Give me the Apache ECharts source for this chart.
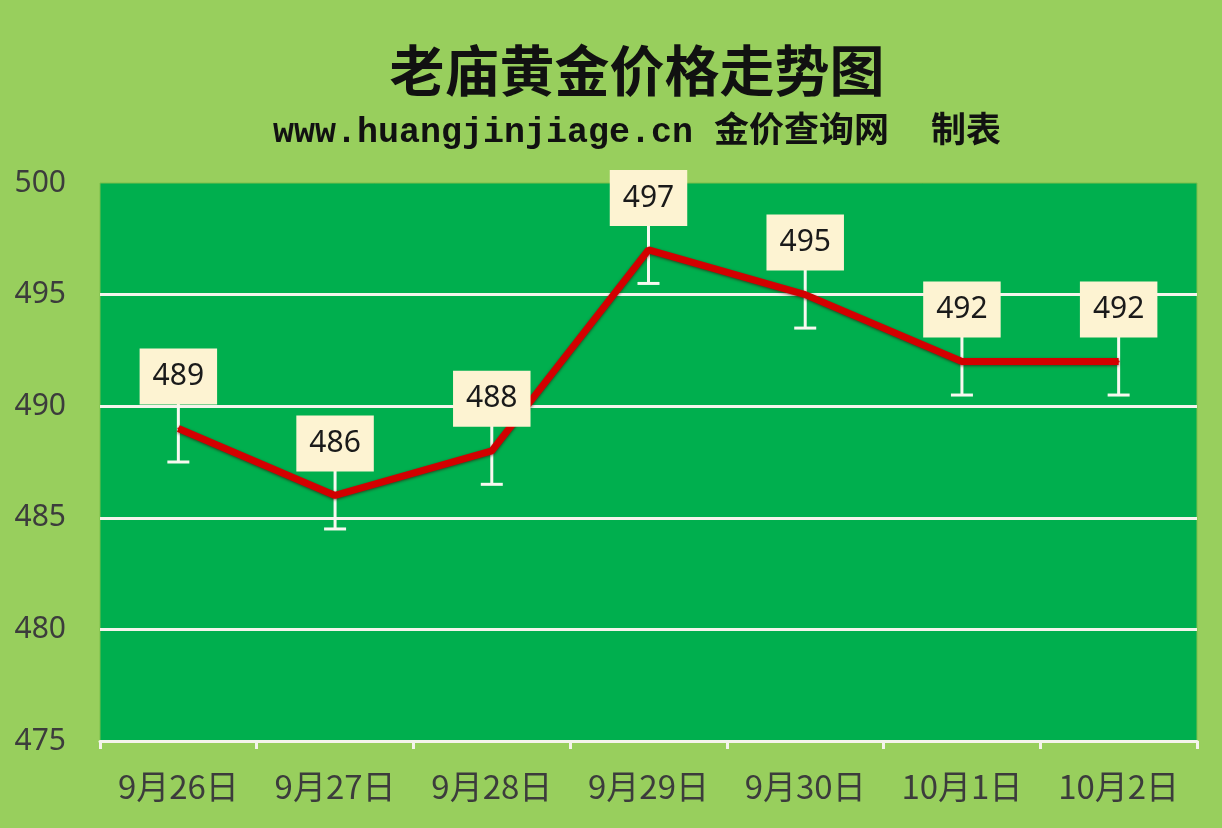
<!DOCTYPE html>
<html><head><meta charset="utf-8">
<script src="https://cdn.jsdelivr.net/npm/echarts@6/dist/echarts.min.js"></script>
<style>html,body{margin:0;padding:0;background:#98CF5D;}#c{width:1222px;height:828px;}</style>
</head><body><div id="c"></div>
<script>
const categories = ['9月26日','9月27日','9月28日','9月29日','9月30日','10月1日','10月2日'];
const prices = [489, 486, 488, 497, 495, 492, 492];
const errorAmount = [1.5, 1.5, 1.5, 1.5, 1.5, 1.5, 1.5];
const yMin = 475, yMax = 500, yStep = 5;

const errData = prices.map((v, i) => [i, v + errorAmount[i], v - errorAmount[i]]);
const W = '#F4F4EC';

const chart = echarts.init(document.getElementById('c'));
chart.setOption({
  backgroundColor: '#98CF5D',
  animation: false,
  title: [
    { text: '老庙黄金价格走势图', left: 632, textAlign: 'center', top: 38,
      textStyle: { fontFamily: 'Noto Sans CJK SC', fontWeight: 'bold', fontSize: 55, color: '#111' } },
    { text: 'www.huangjinjiage.cn 金价查询网  制表', left: 632, textAlign: 'center', top: 111,
      textStyle: { fontFamily: 'Liberation Mono, Noto Sans CJK SC', fontWeight: 'bold', fontSize: 35, color: '#111' } }
  ],
  grid: { left: 100, right: 25, top: 183, bottom: 87, backgroundColor: '#00AF4E', show: true, borderWidth: 1, borderColor: '#7DBE4A' },
  xAxis: {
    type: 'category', data: categories, boundaryGap: true,
    axisLine: { lineStyle: { color: W, width: 3 } },
    axisTick: { show: true, interval: 0, length: 8, lineStyle: { color: W, width: 3 } },
    axisLabel: { interval: 0, hideOverlap: false, fontFamily: 'Noto Sans CJK SC', fontSize: 33, color: '#3C3C3C', margin: 29 }
  },
  yAxis: {
    type: 'value', min: yMin, max: yMax, interval: yStep,
    axisLine: { show: false }, axisTick: { show: false },
    axisLabel: { fontFamily: 'Noto Sans', fontSize: 30, color: '#3C3C3C', margin: 34 },
    splitLine: { lineStyle: { color: [W, W, W, W, W, 'rgba(0,0,0,0)'], width: 3 } }
  },
  series: [
    {
      type: 'custom', z: 2,
      data: errData,
      renderItem: function (params, api) {
        const p1 = api.coord([api.value(0), api.value(1)]);
        const p2 = api.coord([api.value(0), api.value(2)]);
        const x = p1[0], top = p1[1], bot = p2[1];
        const cap = 11;
        const st = { stroke: '#F8F8F0', lineWidth: 3 };
        return { type: 'group', children: [
          { type: 'line', shape: { x1: x, y1: top, x2: x, y2: bot }, style: st },
          { type: 'line', shape: { x1: x - cap, y1: top, x2: x + cap, y2: top }, style: st },
          { type: 'line', shape: { x1: x - cap, y1: bot, x2: x + cap, y2: bot }, style: st }
        ]};
      }
    },
    {
      type: 'line', z: 3, data: prices, symbol: 'circle', symbolSize: 2, showSymbol: true,
      itemStyle: { color: '#D30000' },
      lineStyle: { color: '#D30000', width: 7, shadowColor: 'rgba(60,0,0,0.6)', shadowBlur: 3, shadowOffsetY: 1 },
      label: {
        show: true, position: 'top', distance: 23,
        fontFamily: 'Noto Sans', fontSize: 30, color: '#1A1A1A',
        backgroundColor: '#FDF3D2', padding: [12, 13, 12, 13], lineHeight: 32
      }
    }
  ]
});
</script></body></html>
